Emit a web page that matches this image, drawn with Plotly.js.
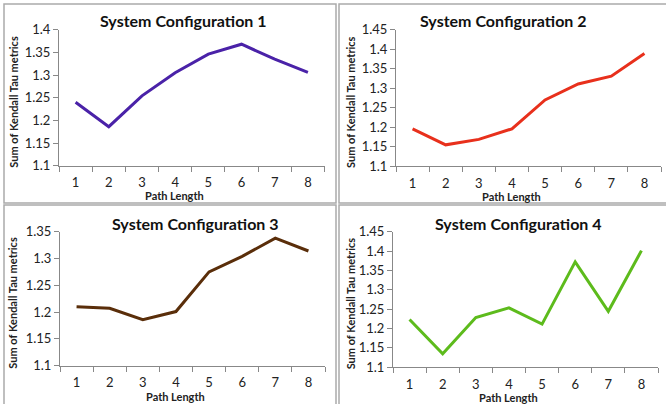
<!DOCTYPE html>
<html>
<head>
<meta charset="utf-8">
<script src="https://cdn.plot.ly/plotly-3.0.1.min.js"></script>
<style>
html,body{margin:0;padding:0;background:#fff;}
#chart{width:666px;height:404px;}
</style>
</head>
<body>
<div id="chart"></div>
<script>
// ---- data ----
var pathLengths = ["1","2","3","4","5","6","7","8"];
var config1 = [1.240, 1.186, 1.254, 1.305, 1.346, 1.368, 1.335, 1.306];
var config2 = [1.196, 1.155, 1.169, 1.196, 1.270, 1.311, 1.331, 1.389];
var config3 = [1.210, 1.207, 1.186, 1.201, 1.275, 1.304, 1.338, 1.314];
var config4 = [1.223, 1.134, 1.228, 1.253, 1.211, 1.372, 1.244, 1.401];
var titles = ["System Configuration 1","System Configuration 2","System Configuration 3","System Configuration 4"];
var colors = ["#4a22a8","#e8301c","#5a2e0a","#5dbb1c"];
var yRanges = [[1.1,1.4],[1.1,1.45],[1.1,1.35],[1.1,1.45]];
var yTitle = "Sum of Kendall Tau metrics";
var xTitle = "Path Length";

// ---- layout geometry (pixels) ----
var W = 666, H = 404;
var plots = [
  {x0:59,  x1:324.5, y0:29.7,  y1:165.7, tx:183, ty:20,  yt:14,  xtY:195.5},
  {x0:396, x1:661,   y0:29.7,  y1:166.3, tx:503, ty:20,  yt:350, xtY:196.5},
  {x0:60,  x1:325,   y0:231.7, y1:365.7, tx:195, ty:223, yt:13,  xtY:396.5},
  {x0:393, x1:658,   y0:231.7, y1:367,   tx:518, ty:223, yt:350, xtY:397.5}
];
var series = [config1, config2, config3, config4];
var FONT = "Lato, 'Open Sans', sans-serif";

var traces = [];
var layout = {
  width: W, height: H,
  margin: {l:0, r:0, t:0, b:0},
  paper_bgcolor: "#fff", plot_bgcolor: "#fff",
  showlegend: false,
  font: {family: FONT, color: "#222"},
  annotations: [], shapes: []
};

function px(x){ return x / W; }
function py(y){ return 1 - y / H; }

for (var i = 0; i < 4; i++) {
  var p = plots[i];
  var sfx = i === 0 ? "" : String(i + 1);
  traces.push({
    type: "scatter", mode: "lines",
    x: pathLengths, y: series[i],
    xaxis: "x" + sfx, yaxis: "y" + sfx,
    line: {color: colors[i], width: 3},
    hoverinfo: "skip"
  });
  layout["xaxis" + sfx] = {
    domain: [px(p.x0), px(p.x1)],
    anchor: "y" + sfx,
    type: "category",
    range: [-0.5, pathLengths.length - 0.5],
    tickson: "boundaries",
    ticks: "outside", ticklen: 5, tickcolor: "#888",
    showline: true, linecolor: "#888", linewidth: 1,
    showgrid: false, zeroline: false,
    tickfont: {size: 13, color: "#222", family: FONT},
    ticklabelstandoff: 5,
    fixedrange: true
  };
  layout["yaxis" + sfx] = {
    domain: [py(p.y1), py(p.y0)],
    anchor: "x" + sfx,
    range: yRanges[i],
    dtick: 0.05,
    ticks: "outside", ticklen: 5, tickcolor: "#888",
    showline: true, linecolor: "#888", linewidth: 1,
    showgrid: false, zeroline: false,
    tickfont: {size: 13, color: "#222", family: FONT},
    fixedrange: true
  };
  layout.annotations.push({
    xref: "paper", yref: "paper", x: px(p.tx), y: py(p.ty),
    xanchor: "center", yanchor: "middle", showarrow: false,
    text: "<b>" + titles[i] + "</b>",
    font: {size: 16, color: "#111", family: FONT}
  });
  layout.annotations.push({
    xref: "paper", yref: "paper", x: px(p.yt), y: py((p.y0 + p.y1) / 2 + 4),
    xanchor: "center", yanchor: "middle", showarrow: false,
    textangle: -90,
    text: "<b>" + yTitle + "</b>",
    font: {size: 11, color: "#222", family: FONT}
  });
  layout.annotations.push({
    xref: "paper", yref: "paper", x: px((p.x0 + p.x1) / 2 - 17), y: py(p.xtY),
    xanchor: "center", yanchor: "middle", showarrow: false,
    text: "<b>" + xTitle + "</b>",
    font: {size: 11, color: "#222", family: FONT}
  });
}

// panel frames
var frames = [
  [4, 4, 336, 203],
  [339, 4, 670, 203],
  [4, 205, 336, 410],
  [339, 205, 670, 410]
];
frames.forEach(function(f){
  layout.shapes.push({
    type: "rect", xref: "paper", yref: "paper",
    x0: px(f[0]), x1: px(f[2]), y0: py(f[3]), y1: py(f[1]),
    line: {color: "#aaa", width: 1.5}
  });
});

Plotly.newPlot("chart", traces, layout, {staticPlot: true, displayModeBar: false});
</script>
</body>
</html>
